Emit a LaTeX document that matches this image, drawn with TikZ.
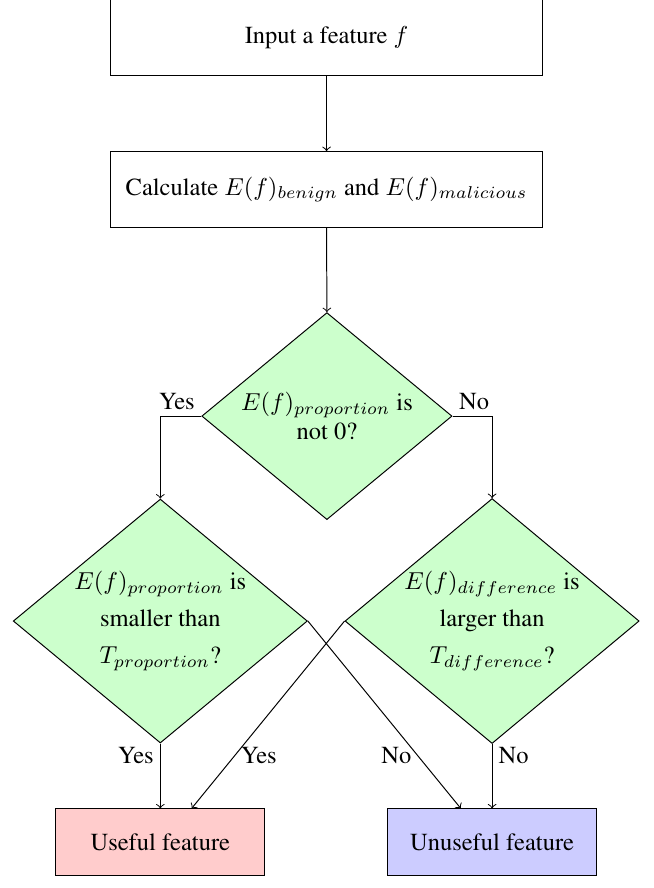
\documentclass[tikz,border=0pt]{standalone}
\usepackage[T1]{fontenc}
\usepackage{times}
\usetikzlibrary{shapes.geometric, positioning}
\definecolor{checkGreen}{HTML}{CCFFCC}
\definecolor{usefulRed}{HTML}{FFCCCC}
\definecolor{unusefulBlue}{HTML}{CCCCFF}

\begin{document}
\begin{tikzpicture}[
  flow/.style={->},
  stepbox/.style={draw, rectangle, minimum width=6.21cm, minimum height=1.09cm, align=center},
  decision/.style={draw, diamond, shape aspect=1.2, fill=checkGreen, inner sep=0pt, align=center},
  result/.style={draw, rectangle, minimum width=3.0cm, minimum height=0.95cm, align=center},
  tag/.style={inner sep=2.5pt}
]
  \useasboundingbox (0,0) rectangle (9.37,12.74);

  % steps
  \node[stepbox] (input) at (4.685,12.20) {Input a feature $f$};
  \node[stepbox] (calc) at (4.685,10.02)
    {Calculate $E(f)_{benign}$ and $E(f)_{malicious}$};

  % decisions
  \node[decision, minimum width=3.59cm, minimum height=2.97cm] (check) at (4.69,6.77)
    {$E(f)_{proportion}$ is\\not 0?};
  \node[decision, minimum width=4.22cm, minimum height=3.50cm] (ratio) at (2.30,3.83)
    {$E(f)_{proportion}$ is\\[3pt]smaller than\\[3pt]$T_{proportion}$?};
  \node[decision, minimum width=4.22cm, minimum height=3.50cm] (diff) at (7.06,3.83)
    {$E(f)_{difference}$ is\\[3pt]larger than\\[3pt]$T_{difference}$?};

  % outcomes
  \node[result, fill=usefulRed] (useful) at (2.30,0.66) {Useful feature};
  \node[result, fill=unusefulBlue] (unuseful) at (7.06,0.66) {Unuseful feature};

  \draw[flow] (input.south) -- (calc.north);
  \draw[flow] (calc.south) -- (check.north);
  \draw[flow] (check.west) -| node[pos=0, above left, tag]{Yes} (ratio.north);
  \draw[flow] (check.east) -| node[pos=0, above right, tag]{No} (diff.north);

  \draw[flow] (ratio.south) -- node[pos=0.18, left, tag]{Yes} (useful.north);
  \draw[flow] (ratio.east) -- node[pos=0.72, left, tag]{No} (unuseful.133);
  \draw[flow] (diff.west) -- node[pos=0.72, right, tag]{Yes} (useful.47);
  \draw[flow] (diff.south) -- node[pos=0.18, right, tag]{No} (unuseful.north);
\end{tikzpicture}
\end{document}
